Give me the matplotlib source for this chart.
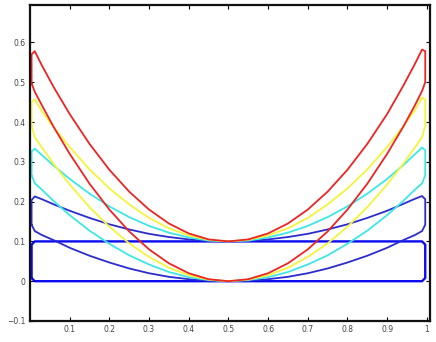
import matplotlib
matplotlib.use("Agg")
import matplotlib.pyplot as plt

# shared x positions where the curves were read
x_grid = [0.004, 0.012, 0.03, 0.06, 0.10, 0.15, 0.20, 0.25, 0.30, 0.35, 0.40, 0.45, 0.50,
          0.55, 0.60, 0.65, 0.70, 0.75, 0.80, 0.85, 0.90, 0.94, 0.97, 0.988, 0.996]

red_top = [0.570, 0.578, 0.542, 0.487, 0.420, 0.345, 0.280, 0.225, 0.180, 0.145, 0.120, 0.105, 0.100,
           0.105, 0.120, 0.145, 0.180, 0.225, 0.280, 0.345, 0.420, 0.490, 0.546, 0.582, 0.578]
red_bottom = [0.497, 0.476, 0.442, 0.387, 0.320, 0.245, 0.180, 0.125, 0.080, 0.045, 0.020, 0.005, 0.000,
              0.005, 0.020, 0.045, 0.080, 0.125, 0.180, 0.245, 0.320, 0.387, 0.442, 0.478, 0.500]

yellow_top = [0.450, 0.457, 0.427, 0.386, 0.337, 0.281, 0.233, 0.193, 0.159, 0.133, 0.115, 0.104, 0.100,
              0.104, 0.115, 0.133, 0.159, 0.193, 0.233, 0.281, 0.337, 0.388, 0.430, 0.462, 0.455]
yellow_bottom = [0.390, 0.362, 0.336, 0.294, 0.243, 0.186, 0.137, 0.095, 0.061, 0.034, 0.015, 0.004, 0.000,
                 0.004, 0.015, 0.034, 0.061, 0.095, 0.137, 0.186, 0.243, 0.294, 0.336, 0.362, 0.390]

cyan_top = [0.326, 0.333, 0.317, 0.290, 0.257, 0.220, 0.188, 0.161, 0.139, 0.122, 0.110, 0.102, 0.100,
            0.102, 0.110, 0.122, 0.139, 0.161, 0.188, 0.220, 0.257, 0.291, 0.319, 0.336, 0.329]
cyan_bottom = [0.266, 0.246, 0.230, 0.201, 0.166, 0.127, 0.094, 0.065, 0.042, 0.023, 0.010, 0.003, 0.000,
               0.003, 0.010, 0.023, 0.042, 0.065, 0.094, 0.127, 0.166, 0.201, 0.230, 0.246, 0.266]

blue_top = [0.204, 0.213, 0.206, 0.193, 0.177, 0.159, 0.143, 0.130, 0.119, 0.111, 0.105, 0.101, 0.100,
            0.101, 0.105, 0.111, 0.119, 0.130, 0.143, 0.159, 0.177, 0.194, 0.207, 0.214, 0.206]
blue_bottom = [0.142, 0.126, 0.116, 0.103, 0.084, 0.064, 0.047, 0.032, 0.020, 0.011, 0.005, 0.001, 0.000,
               0.001, 0.005, 0.011, 0.020, 0.032, 0.047, 0.064, 0.084, 0.103, 0.116, 0.126, 0.142]

box_top = [0.092, 0.100, 0.100, 0.100, 0.100, 0.100, 0.100, 0.100, 0.100, 0.100, 0.100, 0.100, 0.100,
           0.100, 0.100, 0.100, 0.100, 0.100, 0.100, 0.100, 0.100, 0.100, 0.100, 0.100, 0.092]
box_bottom = [0.008, 0.000, 0.000, 0.000, 0.000, 0.000, 0.000, 0.000, 0.000, 0.000, 0.000, 0.000, 0.000,
              0.000, 0.000, 0.000, 0.000, 0.000, 0.000, 0.000, 0.000, 0.000, 0.000, 0.000, 0.008]

x_ticks = [0.1, 0.2, 0.3, 0.4, 0.5, 0.6, 0.7, 0.8, 0.9, 1.0]
x_tick_labels = ["0.1", "0.2", "0.3", "0.4", "0.5", "0.6", "0.7", "0.8", "0.9", "1"]
y_ticks = [-0.1, 0.0, 0.1, 0.2, 0.3, 0.4, 0.5, 0.6]
y_tick_labels = ["\u22120.1", "0", "0.1", "0.2", "0.3", "0.4", "0.5", "0.6"]

loops = [
    (box_bottom, box_top, "#0a0af0", 1.7),
    (blue_bottom, blue_top, "#2b2bd0", 1.3),
    (cyan_bottom, cyan_top, "#3ee6e6", 1.3),
    (yellow_bottom, yellow_top, "#f4f43a", 1.3),
    (red_bottom, red_top, "#ec2424", 1.3),
]

fig = plt.figure(figsize=(4.36, 3.42), dpi=100)
ax = fig.add_axes([30 / 436, 21 / 342, 400 / 436, 316 / 342])

for bottom, top, color, lw in loops:
    xs = list(x_grid) + list(reversed(x_grid)) + [x_grid[0]]
    ys = list(bottom) + list(reversed(top)) + [bottom[0]]
    ax.plot(xs, ys, color=color, lw=lw, solid_joinstyle="round", solid_capstyle="round")

ax.set_xlim(0, 1.008)
ax.set_ylim(-0.1, 0.694)
ax.set_xticks(x_ticks)
ax.set_xticklabels(x_tick_labels)
ax.set_yticks(y_ticks)
ax.set_yticklabels(y_tick_labels)
ax.tick_params(direction="in", length=3, width=0.8, top=True, right=True,
               labelsize=5.5, labelcolor="#444444", pad=3)
for s in ax.spines.values():
    s.set_linewidth(1.6)
    s.set_color("#111111")

fig.savefig("out.png", dpi=100)
